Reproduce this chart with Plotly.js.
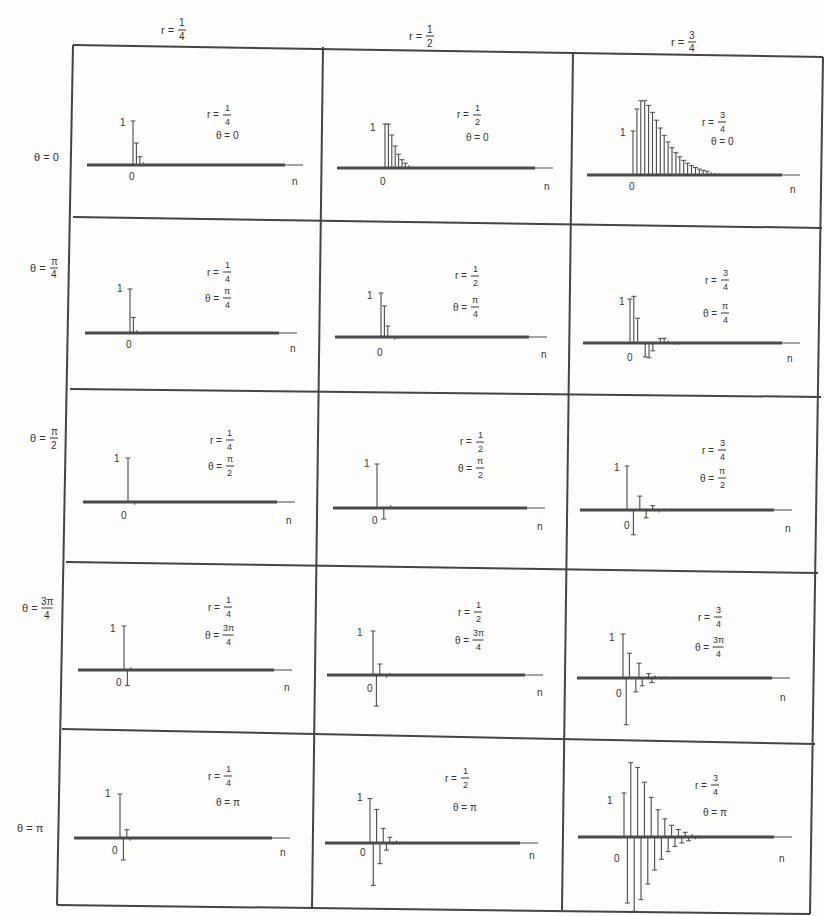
<!DOCTYPE html>
<html>
<head>
<meta charset="utf-8">
<script src="https://cdn.plot.ly/plotly-3.0.1.min.js"></script>
<style>
  html, body { margin: 0; padding: 0; background: #fff; }
  #fig { width: 827px; height: 916px; }
</style>
</head>
<body>
<div id="fig"></div>
<script>
// Impulse responses h[n], n = 0, 1, 2, ... of the second-order system
// for pole radius r (columns) and pole angle theta (rows).
const rHeaders     = [['1', '4'], ['1', '2'], ['3', '4']];
const thetaHeaders = [['0', null], ['\u03c0', '4'], ['\u03c0', '2'], ['3\u03c0', '4'], ['\u03c0', null]];

// theta = 0
const h_t0_r1 = [1, 0.5, 0.188, 0.063, 0.020, 0.006, 0.002];
const h_t0_r2 = [1, 1, 0.75, 0.5, 0.313, 0.188, 0.109, 0.063, 0.035, 0.020, 0.011, 0.006];
const h_t0_r3 = [1, 1.5, 1.688, 1.688, 1.582, 1.424, 1.246, 1.068, 0.901, 0.751, 0.619, 0.507, 0.412,
                 0.333, 0.267, 0.214, 0.170, 0.135, 0.107, 0.085, 0.067, 0.052, 0.041, 0.032, 0.025];
// theta = pi/4
const h_t1_r1 = [1, 0.354, 0.063, 0, -0.004, -0.001];
const h_t1_r2 = [1, 0.707, 0.25, 0, -0.063, -0.044, -0.016, 0, 0.004, 0.003];
const h_t1_r3 = [1, 1.061, 0.563, 0, -0.316, -0.336, -0.178, 0, 0.100, 0.106, 0.056, 0,
                 -0.032, -0.034, -0.018, 0, 0.010, 0.011, 0.006];
// theta = pi/2
const h_t2_r1 = [1, 0, -0.063, 0, 0.004];
const h_t2_r2 = [1, 0, -0.25, 0, 0.063, 0, -0.016, 0, 0.004];
const h_t2_r3 = [1, 0, -0.563, 0, 0.316, 0, -0.178, 0, 0.100, 0, -0.056, 0, 0.032, 0, -0.018, 0, 0.010];
// theta = 3pi/4
const h_t3_r1 = [1, -0.354, 0.063, 0, -0.004, 0.001];
const h_t3_r2 = [1, -0.707, 0.25, 0, -0.063, 0.044, -0.016, 0, 0.004, -0.003];
const h_t3_r3 = [1, -1.061, 0.563, 0, -0.316, 0.336, -0.178, 0, 0.100, -0.106, 0.056, 0,
                 -0.032, 0.034, -0.018, 0, 0.010, -0.011];
// theta = pi
const h_t4_r1 = [1, -0.5, 0.188, -0.063, 0.020, -0.006, 0.002];
const h_t4_r2 = [1, -1, 0.75, -0.5, 0.313, -0.188, 0.109, -0.063, 0.035, -0.020, 0.011, -0.006];
const h_t4_r3 = [1, -1.5, 1.688, -1.688, 1.582, -1.424, 1.246, -1.068, 0.901, -0.751, 0.619, -0.507, 0.412,
                 -0.333, 0.267, -0.214, 0.170, -0.135, 0.107, -0.085, 0.067, -0.052, 0.041, -0.032, 0.025];

const series = [
  [h_t0_r1, h_t0_r2, h_t0_r3],
  [h_t1_r1, h_t1_r2, h_t1_r3],
  [h_t2_r1, h_t2_r2, h_t2_r3],
  [h_t3_r1, h_t3_r2, h_t3_r3],
  [h_t4_r1, h_t4_r2, h_t4_r3]
];

// ---- page geometry (pixels) ----
const W = 827, H = 916;
const UNIT = 44;            // pixels per unit amplitude
const UP = 80, DOWN = 75;   // panel extent above/below the n-axis
const INK = '#333333';
const STEM = '#4a4a4a';
const FONT = 'Liberation Sans, Arial, sans-serif';

// per panel: baseline y, n=0 x, axis start, axis end, px per step,
// "1" label, "0" label, "n" label, caption x, r caption y, theta caption y
const panels = [
  [[165,133, 87,303,3.4, 123,122, 132,177, 295,182, 227,115,135],
   [168,385,337,553,3.4, 373,127, 383,182, 547,187, 477,115,138],
   [175,633,587,800,3.9, 623,132, 632,187, 793,190, 722,122,141]],
  [[333,130, 85,297,3.4, 120,288, 129,345, 293,348, 227,272,298],
   [337,381,335,547,3.4, 370,295, 380,352, 544,355, 475,276,307],
   [343,630,583,800,3.8, 622,302, 630,357, 790,358, 725,280,313]],
  [[502,128, 83,295,3.4, 117,458, 124,515, 289,520, 230,440,466],
   [508,377,333,545,3.4, 367,463, 375,520, 540,526, 480,442,468],
   [510,627,580,792,3.2, 617,467, 627,525, 788,528, 722,450,478]],
  [[670,124, 78,292,3.4, 113,628, 119,682, 287,687, 228,607,635],
   [675,373,327,543,3.4, 360,632, 370,688, 540,692, 478,612,640],
   [678,623,577,790,3.2, 612,637, 619,693, 783,697, 718,617,647]],
  [[838,120, 74,290,3.4, 108,793, 115,850, 283,852, 228,776,802],
   [843,370,325,538,3.3, 360,797, 363,852, 532,855, 465,778,807],
   [837,624,578,792,3.4, 610,800, 617,858, 782,858, 715,785,812]]
];

const px = x => x / W;
const py = y => 1 - y / H;

const traces = [];
const layout = {
  width: W, height: H,
  margin: {l: 0, r: 0, t: 0, b: 0},
  paper_bgcolor: '#fdfdfc',
  plot_bgcolor: 'rgba(0,0,0,0)',
  showlegend: false,
  shapes: [],
  annotations: []
};

function text(x, y, s, size, anchor) {
  layout.annotations.push({
    xref: 'paper', yref: 'paper', x: px(x), y: py(y),
    text: s, showarrow: false, xanchor: anchor || 'center', yanchor: 'middle',
    font: {family: FONT, size: size, color: INK}
  });
}
function seg(x0, y0, x1, y1, w, col) {
  layout.shapes.push({
    type: 'line', xref: 'paper', yref: 'paper',
    x0: px(x0), y0: py(y0), x1: px(x1), y1: py(y1),
    line: {color: col || INK, width: w}
  });
}
// "prefix = num/den" with a stacked fraction centred at (cx, cy)
function label(cx, cy, prefix, num, den, size) {
  if (den === null) {
    text(cx, cy, prefix + ' = ' + num, size);
    return;
  }
  const half = num.length > 1 ? 5.5 : 4;
  text(cx - half - 2, cy, prefix + ' =', size, 'right');
  text(cx, cy - 7, num, size - 1);
  text(cx, cy + 7, den, size - 1);
  seg(cx - half, cy, cx + half, cy, 1);
}

// ---- table rules (the printed grid is slightly skewed) ----
const hRules = [[73,45,823,57],[73,217,822,228],[70,389,821,397],[66,562,818,573],[62,729,815,744],[57,905,810,914]];
const vRules = [[73,45,57,905],[323,47,312,908],[573,52,562,910],[823,57,810,914]];
hRules.forEach(r => seg(r[0], r[1], r[2], r[3], 2, '#444'));
vRules.forEach(r => seg(r[0], r[1], r[2], r[3], 2, '#444'));

// ---- column and row headings ----
const colHead = [[182, 30], [430, 36], [692, 42]];
colHead.forEach((p, c) => label(p[0], p[1], 'r', rHeaders[c][0], rHeaders[c][1], 11));
const rowHead = [[46, 157], [54, 268], [54, 438], [47, 608], [30, 828]];
rowHead.forEach((p, r) => label(p[0], p[1], '\u03b8', thetaHeaders[r][0], thetaHeaders[r][1], 11));

// ---- stem panels ----
let k = 0;
for (let r = 0; r < 5; r++) {
  for (let c = 0; c < 3; c++) {
    k++;
    const g = panels[r][c];
    const [yb, x0, xs, xe, step, oneX, oneY, zX, zY, nX, nY, capX, rY, tY] = g;
    const xa = 'xaxis' + (k === 1 ? '' : k), ya = 'yaxis' + (k === 1 ? '' : k);
    const xr = 'x' + (k === 1 ? '' : k), yr = 'y' + (k === 1 ? '' : k);

    layout[xa] = {
      domain: [px(xs), px(xe)], range: [(xs - x0) / step, (xe - x0) / step],
      visible: false, fixedrange: true, anchor: yr
    };
    layout[ya] = {
      domain: [py(yb + DOWN), py(yb - UP)], range: [-DOWN / UNIT, UP / UNIT],
      visible: false, fixedrange: true, anchor: xr
    };

    // n-axis: heavy rule, thin arrow end
    seg(xs, yb, xe - 18, yb, 2.8, '#4a4a4a');
    seg(xe - 18, yb, xe, yb, 1, '#4a4a4a');

    const vals = series[r][c];
    const sx = [], sy = [], tx = [], ty = [];
    vals.forEach((v, n) => {
      sx.push(n, n, null); sy.push(0, v, null);
      // cap ticks only where the stem clears the heavy axis rule
      if (Math.abs(v) * UNIT > 3) { tx.push(n); ty.push(v); }
    });
    traces.push({
      type: 'scatter', mode: 'lines', x: sx, y: sy, xaxis: xr, yaxis: yr,
      line: {color: STEM, width: 1.1}, hoverinfo: 'skip', connectgaps: false
    });
    traces.push({
      type: 'scatter', mode: 'markers', x: tx, y: ty, xaxis: xr, yaxis: yr,
      marker: {symbol: 'line-ew', size: 3.5, line: {color: STEM, width: 1}},
      hoverinfo: 'skip'
    });

    text(oneX, oneY, '1', 10);
    text(zX, zY, '0', 10);
    text(nX, nY, 'n', 10);
    label(capX, rY, 'r', rHeaders[c][0], rHeaders[c][1], 10);
    label(capX, tY, '\u03b8', thetaHeaders[r][0], thetaHeaders[r][1], 10);
  }
}

Plotly.newPlot('fig', traces, layout, {staticPlot: true, displayModeBar: false});
</script>
</body>
</html>
